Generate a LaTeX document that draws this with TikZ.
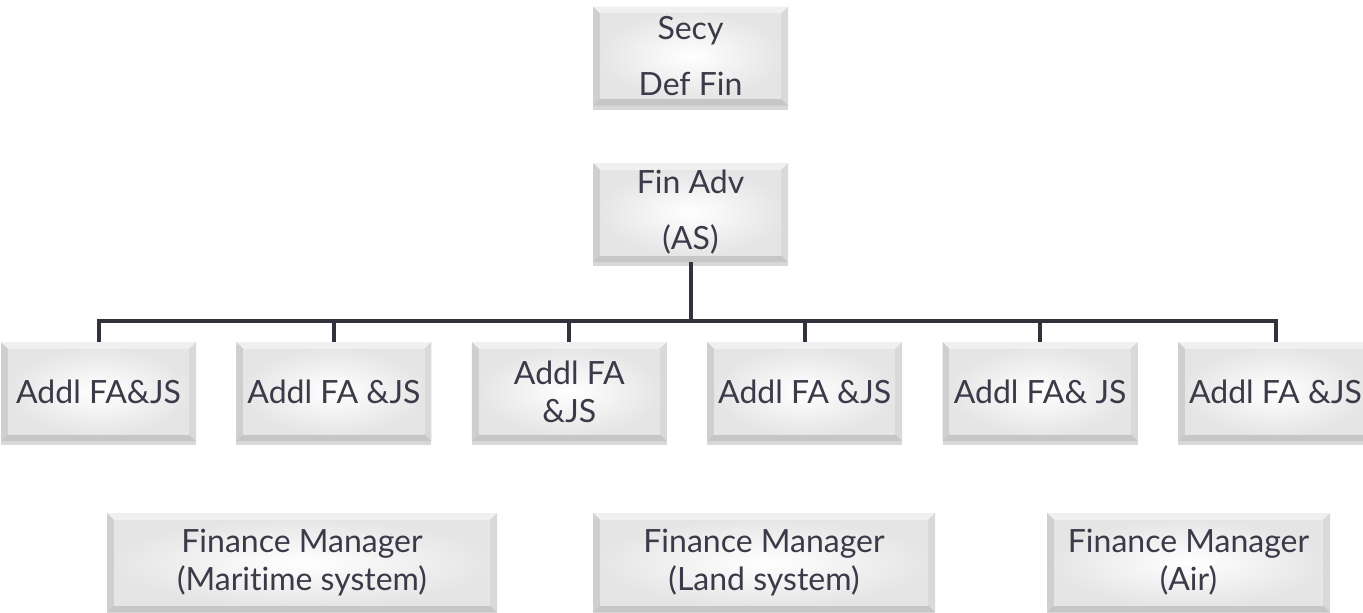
\documentclass[tikz,border=0pt]{standalone}
\usepackage{fontspec}
\setmainfont[Ligatures=NoCommon]{Lato}
\usepackage{tikz}
\usetikzlibrary{shapes,calc,shadows,positioning}
\definecolor{boxtext}{HTML}{3A3A48}
\definecolor{linegray}{HTML}{32323D}
\tikzstyle{block} = [rectangle, inner sep=0pt, align=center, text=boxtext, minimum height=99pt, minimum width=195pt, font=\fontsize{32}{38}\selectfont, drop shadow={shadow xshift=0pt, shadow yshift=-4pt, opacity=0.3},
  path picture={
    \coordinate (pbsw) at (path picture bounding box.south west);
    \coordinate (pbne) at (path picture bounding box.north east);
    \coordinate (pbnw) at (path picture bounding box.north west);
    \coordinate (pbse) at (path picture bounding box.south east);
    \fill[gray!45] (pbsw) -- (pbse) -- ++(-7pt,7pt) -- ($(pbsw)+(7pt,7pt)$) -- cycle;
    \fill[gray!12] (pbnw) -- (pbne) -- ++(-7pt,-7pt) -- ($(pbnw)+(7pt,-7pt)$) -- cycle;
    \fill[gray!38] (pbsw) -- (pbnw) -- ++(7pt,-7pt) -- ($(pbsw)+(7pt,7pt)$) -- cycle;
    \fill[gray!30] (pbse) -- (pbne) -- ++(-7pt,-7pt) -- ($(pbse)+(-7pt,7pt)$) -- cycle;
    \shade[inner color=white, outer color=gray!20] ($(pbsw)+(7pt,7pt)$) rectangle ($(pbne)+(-7pt,-7pt)$);
  }]
\tikzstyle{line} = [draw=linegray, line width=4pt]

\begin{document}
\begin{tikzpicture}[x=1pt, y=1pt]
		\path [use as bounding box, fill=white] (0,0) rectangle (1363,-613);
		% Place nodes
		\node [block, font=\fontsize{32}{56}\selectfont] (secy) at (690.5,-56) {Secy\\Def Fin};
		\node [block, font=\fontsize{32}{56}\selectfont] (finadv) at (690.5,-212.5) {Fin Adv\\(AS)};
		
		\node [block] (addl1) at (98.5,-391.5) {Addl FA\&JS};
		\node [block, right of=addl1, node distance=235.4pt] (addl2) {Addl FA \&JS};
		\node [block, right of=addl2, node distance=235.4pt] (addl3) {Addl FA\\\&JS};
		\node [block, right of=addl3, node distance=235.4pt] (addl4) {Addl FA \&JS};
		\node [block, right of=addl4, node distance=235.4pt] (addl5) {Addl FA\& JS};
		\node [block, right of=addl5, node distance=235.4pt] (addl6) {Addl FA \&JS};
		
		\node [block, minimum width=390pt] (fmsea) at (302,-562.5) {Finance Manager\\(Maritime system)};
		\node [block, minimum width=342pt] (fmland) at (764,-562.5) {Finance Manager\\(Land system)};
		\node [block, minimum width=283pt] (fmair) at (1188.5,-562.5) {Finance Manager\\(Air)};
		
		% Draw edges
		\path [line] (finadv.south) -- ++(0,-59) coordinate (bar);
		\foreach \n in {1,...,6}
			\path [line] (bar) -| (addl\n.north);
	\end{tikzpicture}
\end{document}
